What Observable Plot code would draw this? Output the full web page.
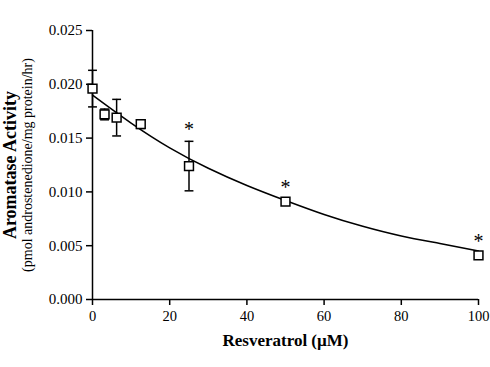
<!DOCTYPE html>
<html>
<head>
<meta charset="utf-8">
<script src="https://cdn.jsdelivr.net/npm/d3@7"></script>
<script src="https://cdn.jsdelivr.net/npm/@observablehq/plot@0.6"></script>
<style>
  html, body { margin: 0; padding: 0; background: #fff; }
  svg, svg text { font-family: 'Liberation Serif', 'Times New Roman', serif !important; }
</style>
</head>
<body>
<div id="chart"></div>
<script>
// Measured points (mean ± error)
const conc = [0, 3.125, 6.25, 12.5, 25, 50, 100];
const activity = [0.0196, 0.0172, 0.0169, 0.0163, 0.0124, 0.0091, 0.0041];
const err = [0.0017, 0.0005, 0.0017, 0.0004, 0.0023, 0.0002, 0.0002];
const signif = ["", "", "", "", "*", "*", "*"];

// Fitted curve
const fitX = [0, 10, 20, 30, 40, 50, 60, 70, 80, 90, 100];
const fitY = [0.0190, 0.0164, 0.0141, 0.0122, 0.0106, 0.0092, 0.0079, 0.0068, 0.0059, 0.0052, 0.0045];

// Axis ticks
const xTicks = [0, 20, 40, 60, 80, 100];
const yTicks = [0, 0.005, 0.010, 0.015, 0.020, 0.025];

const points = conc.map((c, i) => ({x: c, y: activity[i], lo: activity[i] - err[i], hi: activity[i] + err[i], s: signif[i]}));
const fit = fitX.map((x, i) => ({x, y: fitY[i]}));

const capSymbol = {
  draw(context, size) {
    const w = Math.sqrt(size) / 2;
    context.moveTo(-w, 0);
    context.lineTo(w, 0);
  }
};

const chart = Plot.plot({
  width: 490,
  height: 367,
  marginLeft: 92,
  marginRight: 12,
  marginTop: 30,
  marginBottom: 68,
  style: {fontSize: "14px", color: "#000", background: "#fff"},
  x: {domain: [0, 100], ticks: xTicks, tickSize: 6, tickPadding: 6, label: null},
  y: {domain: [0, 0.025], ticks: yTicks, tickSize: 6, tickPadding: 4, tickFormat: d3.format(".3f"), label: null},
  marks: [
    Plot.axisX({ticks: xTicks, tickSize: 6, tickPadding: 5, label: null, fontSize: 14.5, strokeWidth: 1.5}),
    Plot.axisY({ticks: yTicks, tickSize: 6, tickPadding: 4, tickFormat: d3.format(".3f"), label: null, fontSize: 15, strokeWidth: 1.5}),
    Plot.ruleY([0], {stroke: "#000", strokeWidth: 1.5}),
    Plot.ruleX([0], {stroke: "#000", strokeWidth: 1.5}),
    Plot.line(fit, {x: "x", y: "y", curve: "natural", stroke: "#000", strokeWidth: 1.5}),
    Plot.ruleX(points, {x: "x", y1: "lo", y2: "hi", stroke: "#000", strokeWidth: 1.5}),
    Plot.dot(points, {x: "x", y: "lo", symbol: capSymbol, r: 5, stroke: "#000", fill: "none", strokeWidth: 1.5}),
    Plot.dot(points, {x: "x", y: "hi", symbol: capSymbol, r: 5, stroke: "#000", fill: "none", strokeWidth: 1.5}),
    Plot.dot(points, {x: "x", y: "y", symbol: "square", r: 5, stroke: "#000", fill: "#fff", strokeWidth: 1.5}),
    Plot.text(points, {x: "x", y: "hi", text: "s", dy: -12, fontSize: 20, lineAnchor: "middle", fill: "#000"}),
    Plot.text(["Resveratrol (\u00b5M)"], {frameAnchor: "bottom", dy: 46, fontSize: 17, fontWeight: "bold", fill: "#000"}),
    Plot.text(["Aromatase Activity"], {frameAnchor: "left", textAnchor: "middle", dx: -82, rotate: -90, fontSize: 18, fontWeight: "bold", fill: "#000"}),
    Plot.text(["(pmol androstenedione/mg protein/hr)"], {frameAnchor: "left", textAnchor: "middle", dx: -65, rotate: -90, fontSize: 14, fill: "#000"})
  ]
});
document.getElementById("chart").appendChild(chart);
</script>
</body>
</html>
